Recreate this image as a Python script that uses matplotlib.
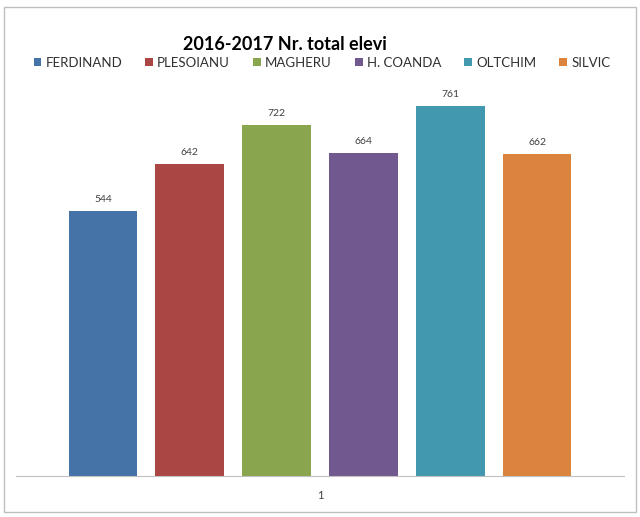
import matplotlib.pyplot as plt
from matplotlib.patches import Rectangle

# data
schools = ['FERDINAND', 'PLESOIANU', 'MAGHERU', 'H. COANDA', 'OLTCHIM', 'SILVIC']
elevi = [544, 642, 722, 664, 761, 662]
colors = ['#4572A7', '#AA4643', '#89A54E', '#71588F', '#4198AF', '#DB843D']
category = '1'

plt.rcParams['font.family'] = ['Lato', 'DejaVu Sans']

fig = plt.figure(figsize=(6.4, 5.17), dpi=100)
ax = fig.add_axes([0.025, 0.0793, 0.95, 0.753])

bars = []
for i, (name, val, col) in enumerate(zip(schools, elevi, colors)):
    b = ax.bar(i, val, width=0.79, color=col, label=name, zorder=2)
    bars.append(b)
    ax.text(i, val + 14, str(val), ha='center', va='bottom', fontsize=7.5, color='#404040')

ax.set_xlim(-1, 6)
ax.set_ylim(0, 800)
ax.set_yticks([])
ax.set_xticks([(len(schools) - 1) / 2])
ax.set_xticklabels([category], fontsize=8, color='#404040')
ax.tick_params(axis='x', length=0, pad=10)
for s in ['top', 'left', 'right']:
    ax.spines[s].set_visible(False)
ax.spines['bottom'].set_color('#c0c0c0')

fig.text(0.445, 0.913, '2016-2017 Nr. total elevi', ha='center', va='center',
         fontsize=13, fontweight='bold', color='black')

fig.legend(handles=[b[0] for b in bars], labels=schools, loc='center',
           bbox_to_anchor=(0.503, 0.879), ncol=6, frameon=False, fontsize=9.5,
           handlelength=0.6, handleheight=0.6, handletextpad=0.3,
           columnspacing=1.75, labelcolor='#303030')

fig.patches.append(Rectangle((4 / 640, 5 / 517), 632 / 640, 505 / 517,
                             transform=fig.transFigure, fill=False,
                             edgecolor='#bfbfbf', linewidth=1.0))

fig.savefig('out.png', dpi=100)
